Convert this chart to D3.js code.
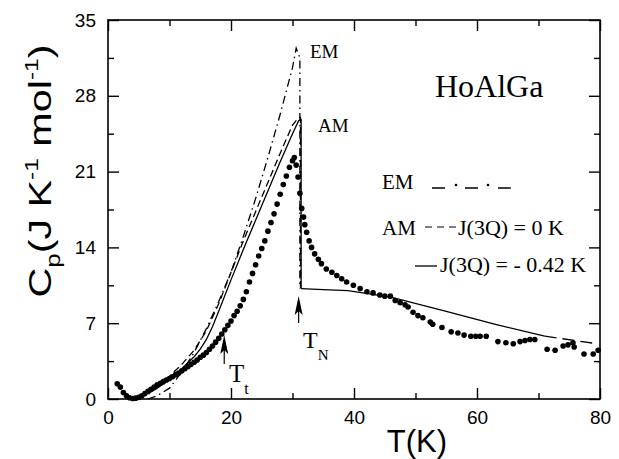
<!DOCTYPE html>
<html>
<head>
<meta charset="utf-8">
<script src="https://cdn.jsdelivr.net/npm/d3@7"></script>
<style>
  html, body { margin: 0; padding: 0; background: #fff; }
  svg { display: block; }
</style>
</head>
<body>
<svg id="chart" width="619" height="459"></svg>
<script>
// ---------- data ----------
const xTicksMajor = [0, 20, 40, 60, 80];
const xTicksMinor = [10, 30, 50, 70];
const yTicksMajor = [0, 7, 14, 21, 28, 35];
const yTicksMinor = [3.5, 10.5, 17.5, 24.5, 31.5];

// measured Cp (dots): [T, Cp]
const measured = [
  [1.5,1.4],[2.0,1.1],[2.5,0.6],[3.0,0.3],[3.5,0.12],[4.0,0.05],[4.5,0.08],[5.0,0.15],[5.5,0.3],[6.0,0.5],
  [6.5,0.7],[7.0,0.9],[7.5,1.1],[8.0,1.3],[8.5,1.45],[9.0,1.6],[9.5,1.75],[10.0,1.9],[10.5,2.05],[11.0,2.25],
  [11.5,2.4],[12.0,2.6],[12.5,2.8],[13.0,3.0],[13.5,3.2],[14.0,3.4],[14.5,3.6],[15.0,3.85],[15.5,4.05],
  [16.0,4.3],[16.5,4.6],[17.0,4.9],[17.5,5.25],[18.0,5.6],[18.5,6.0],[19.0,6.4],[19.5,6.8],[20.0,7.2],
  [20.5,7.7],[21.0,8.1],[21.5,8.6],[22.0,9.2],[22.5,9.9],[23.0,10.8],[23.5,11.6],[24.0,12.4],[24.5,13.2],
  [25.0,13.9],[25.5,14.6],[26.0,15.5],[26.5,16.3],[27.0,17.1],[27.5,18.0],[28.0,18.9],[28.5,19.8],
  [29.0,20.6],[29.5,21.4],[30.0,22.0],[30.3,22.3],[30.6,21.6],[30.9,20.5],[31.2,19.0],[31.5,17.6],
  [31.8,16.8],[32.0,16.1],[32.3,15.4],[32.7,14.6],[33.1,14.0],[33.6,13.4],[34.2,12.9],[34.7,12.5],
  [35.5,12.0],[36.4,11.7],[37.2,11.4],[38.0,11.1],[38.8,10.8],[39.9,10.5],[41.0,10.2],[42.1,9.9],
  [43.1,9.8],[44.2,9.6],[45.0,9.5],[45.9,9.5],[46.7,9.1],[47.5,8.9],[48.3,8.7],[48.8,8.5],[49.6,8.0],
  [50.4,7.7],[51.2,7.5],[52.4,7.1],[52.8,6.9],[54.3,6.6],[55.8,6.2],[56.9,6.1],[57.9,5.9],[59.0,5.8],
  [59.8,5.8],[60.5,5.8],[61.5,5.8],[63.4,5.3],[64.7,5.2],[65.9,5.1],[67.0,5.3],[67.8,5.4],[68.6,5.5],
  [69.4,5.5],[71.4,4.6],[72.7,4.5],[74.0,4.9],[74.8,5.0],[75.6,5.2],[75.8,4.8],[77.4,4.15],[78.9,4.15],[79.7,4.5]
];

// EM model (dash-dot)
const emCurve = [
  [6.5,0],[8,0.3],[10,1.0],[12,2.5],[14,4.3],[16,6.5],[18,9.0],[20,11.7],[22,15.0],[24,18.5],
  [26,22.3],[28,26.3],[30,30.6],[30.6,32.4],[31.2,31.5],[31.2,10.2]
];
// AM, J(3Q) = 0 K (dashed)
const amJ0Curve = [
  [6.5,0.6],[8,1.2],[10,2.1],[12,3.2],[14,4.5],[16,6.3],[18,8.8],[20,11.7],[22,14.6],[24,17.3],
  [26,20.0],[28,22.7],[30,25.3],[31,26.0],[31.3,26.0],[31.3,10.2]
];
// AM, J(3Q) = -0.42 K (solid)
const amJ42Curve = [
  [6.5,0.5],[8,1.0],[10,1.8],[12,2.8],[14,3.9],[15,4.6],[16,5.5],[17,6.7],[18,8.1],[20,11.0],
  [22,13.8],[24,16.5],[26,19.2],[28,21.9],[30,24.5],[31,25.7],[31.4,25.8],[31.4,10.2]
];
// paramagnetic part above T_N (solid) and its continuation (dashed)
const highTSolid = [[31.4,10.2],[35,10.1],[39,10.0],[46,9.4],[55,8.1],[63,6.9],[71,5.8]];
const highTDashed = [[71,5.8],[79,5.15]];

// ---------- drawing ----------
const svg = d3.select("#chart");
const W = 619, H = 459;
svg.append("rect").attr("width", W).attr("height", H).attr("fill", "#fff");

const x = d3.scaleLinear().domain([0, 80]).range([108, 600]);
const y = d3.scaleLinear().domain([0, 35]).range([399, 20]);

const sans = "'Liberation Sans', Arial, Helvetica, sans-serif";
const serif = "'Liberation Serif', 'Times New Roman', Times, serif";

const line = d3.line().x(d => x(d[0])).y(d => y(d[1]));

// curves
const g = svg.append("g");
g.append("path").datum(emCurve).attr("d", line)
  .attr("fill", "none").attr("stroke", "#000").attr("stroke-width", 1.3)
  .attr("stroke-dasharray", "8,4,1.5,4");
g.append("path").datum(amJ0Curve).attr("d", line)
  .attr("fill", "none").attr("stroke", "#000").attr("stroke-width", 1.3)
  .attr("stroke-dasharray", "7,4");
g.append("path").datum(amJ42Curve).attr("d", line)
  .attr("fill", "none").attr("stroke", "#000").attr("stroke-width", 1.3);
g.append("path").datum(highTSolid).attr("d", line)
  .attr("fill", "none").attr("stroke", "#000").attr("stroke-width", 1.3);
g.append("path").datum(highTDashed).attr("d", line)
  .attr("fill", "none").attr("stroke", "#000").attr("stroke-width", 1.3)
  .attr("stroke-dasharray", "12,6");

// dots
g.selectAll("circle.m").data(measured).enter().append("circle")
  .attr("class", "m")
  .attr("cx", d => x(d[0])).attr("cy", d => y(d[1])).attr("r", 2.8)
  .attr("fill", "#000");

// axes (ticks inward on all sides)
const axStyle = sel => {
  sel.select(".domain").remove();
  sel.selectAll("line").attr("stroke", "#000").attr("stroke-width", 1.4);
  sel.selectAll("text").attr("font-family", sans).attr("font-size", 19).attr("fill", "#000");
};
svg.append("g").attr("transform", "translate(0,399)")
  .call(d3.axisBottom(x).tickValues(xTicksMajor).tickSize(-11).tickPadding(12).tickFormat(d3.format("d")))
  .call(axStyle);
svg.append("g").attr("transform", "translate(0,399)")
  .call(d3.axisBottom(x).tickValues(xTicksMinor).tickSize(-6).tickFormat(""))
  .call(axStyle);
svg.append("g").attr("transform", "translate(0,20)")
  .call(d3.axisTop(x).tickValues(xTicksMajor).tickSize(-11).tickFormat(""))
  .call(axStyle);
svg.append("g").attr("transform", "translate(0,20)")
  .call(d3.axisTop(x).tickValues(xTicksMinor).tickSize(-6).tickFormat(""))
  .call(axStyle);
svg.append("g").attr("transform", "translate(108,0)")
  .call(d3.axisLeft(y).tickValues(yTicksMajor).tickSize(-11).tickPadding(12).tickFormat(d3.format("d")))
  .call(axStyle);
svg.append("g").attr("transform", "translate(108,0)")
  .call(d3.axisLeft(y).tickValues(yTicksMinor).tickSize(-6).tickFormat(""))
  .call(axStyle);
svg.append("g").attr("transform", "translate(600,0)")
  .call(d3.axisRight(y).tickValues(yTicksMajor).tickSize(-11).tickFormat(""))
  .call(axStyle);
svg.append("g").attr("transform", "translate(600,0)")
  .call(d3.axisRight(y).tickValues(yTicksMinor).tickSize(-6).tickFormat(""))
  .call(axStyle);

// frame
svg.append("rect").attr("x", 108).attr("y", 20).attr("width", 492).attr("height", 379)
  .attr("fill", "none").attr("stroke", "#000").attr("stroke-width", 1.6);

// axis titles
svg.append("text").attr("x", 417).attr("y", 452).attr("text-anchor", "middle")
  .attr("font-family", sans).attr("font-size", 31).text("T(K)");

const yl = svg.append("text").attr("font-family", sans).attr("font-size", 32)
  .attr("text-anchor", "start");
yl.append("tspan").text("C");
yl.append("tspan").attr("font-size", 20).attr("dy", 9).text("p");
yl.append("tspan").attr("dy", -9).text("(J K");
yl.append("tspan").attr("font-size", 19).attr("dy", -13).text("-1");
yl.append("tspan").attr("dy", 13).text(" mol");
yl.append("tspan").attr("font-size", 19).attr("dy", -13).text("-1");
yl.append("tspan").attr("dy", 13).text(")");
{
  const bb = yl.node().getBBox();
  const target = 253;
  const sx = target / bb.width;
  yl.attr("transform", `translate(51,${171 + target / 2}) rotate(-90) scale(${sx},1)`);
}

// in-plot labels
svg.append("text").attr("x", 435).attr("y", 97).attr("font-family", serif)
  .attr("font-size", 32).text("HoAlGa");
svg.append("text").attr("x", 310).attr("y", 58).attr("font-family", serif)
  .attr("font-size", 19).text("EM");
svg.append("text").attr("x", 318).attr("y", 132).attr("font-family", serif)
  .attr("font-size", 19).text("AM");

// legend
const lg = svg.append("g").attr("font-family", serif).attr("font-size", 22);
lg.append("text").attr("x", 382).attr("y", 189).attr("font-size", 21).text("EM");
lg.append("line").attr("x1", 432).attr("x2", 516).attr("y1", 188).attr("y2", 188)
  .attr("stroke", "#000").attr("stroke-width", 1.3).attr("stroke-dasharray", "13,20");
[456, 488].forEach(cx => lg.append("circle").attr("cx", cx).attr("cy", 185).attr("r", 1.3).attr("fill", "#000"));
lg.append("text").attr("x", 382).attr("y", 235).attr("font-size", 21).text("AM");
lg.append("line").attr("x1", 425).attr("x2", 457).attr("y1", 227).attr("y2", 227)
  .attr("stroke", "#000").attr("stroke-width", 1.2).attr("stroke-dasharray", "7,5");
lg.append("text").attr("x", 458).attr("y", 235).text("J(3Q) = 0 K");
lg.append("line").attr("x1", 415).attr("x2", 437).attr("y1", 266).attr("y2", 266)
  .attr("stroke", "#000").attr("stroke-width", 1.3);
lg.append("text").attr("x", 440).attr("y", 272).text("J(3Q) = - 0.42 K");

// arrows
function arrow(xc, yTop, yBottom) {
  svg.append("line").attr("x1", xc).attr("x2", xc).attr("y1", yTop + 10).attr("y2", yBottom)
    .attr("stroke", "#000").attr("stroke-width", 1.2);
  svg.append("path").attr("d", `M${xc},${yTop} L${xc - 4},${yTop + 19} L${xc},${yTop + 15} L${xc + 4},${yTop + 19} Z`)
    .attr("fill", "#000");
}
arrow(x(18.9), 335, 364);
arrow(x(31.0), 296, 323);

const tt = svg.append("text").attr("font-family", serif).attr("x", 229).attr("y", 382).attr("font-size", 25);
tt.append("tspan").text("T");
tt.append("tspan").attr("font-size", 16).attr("dy", 12).text("t");
const tn = svg.append("text").attr("font-family", serif).attr("x", 303).attr("y", 348).attr("font-size", 24);
tn.append("tspan").text("T");
tn.append("tspan").attr("font-size", 15).attr("dy", 12).text("N");
</script>
</body>
</html>
